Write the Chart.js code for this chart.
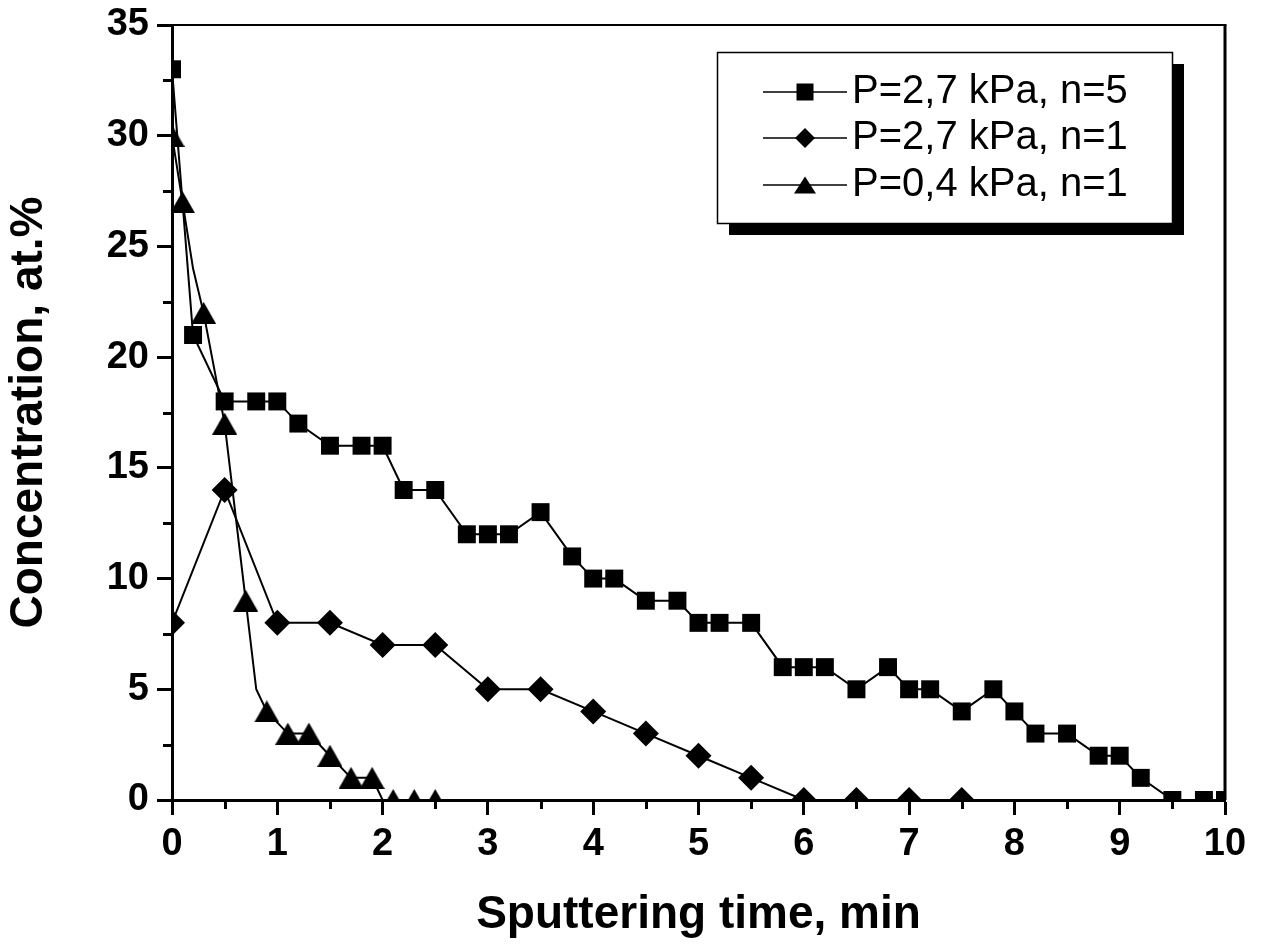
<!DOCTYPE html>
<html>
<head>
<meta charset="utf-8">
<script src="https://cdn.jsdelivr.net/npm/chart.js@4"></script>
<style>
  html, body { margin: 0; padding: 0; background: #fff; }
  #wrap { width: 1262px; height: 947px; position: relative; }
</style>
</head>
<body>
<div id="wrap"><canvas id="c"></canvas></div>
<script>
// ---- data ----
const xTitle = 'Sputtering time, min';
const yTitle = 'Concentration, at.%';
const seriesNames = ['P=2,7 kPa, n=5', 'P=2,7 kPa, n=1', 'P=0,4 kPa, n=1'];

const sqX = [0,0.2,0.5,0.8,1.0,1.2,1.5,1.8,2.0,2.2,2.5,2.8,3.0,3.2,3.5,3.8,4.0,4.2,4.5,4.8,5.0,5.2,5.5,5.8,6.0,6.2,6.5,6.8,7.0,7.2,7.5,7.8,8.0,8.2,8.5,8.8,9.0,9.2,9.5,9.8,10];
const sqY = [33,21,18,18,18,17,16,16,16,14,14,12,12,12,13,11,10,10,9,9,8,8,8,6,6,6,5,6,5,5,4,5,4,3,3,2,2,1,0,0,0];

const dmX = [0,0.5,1.0,1.5,2.0,2.5,3.0,3.5,4.0,4.5,5.0,5.5,6.0,6.5,7.0,7.5];
const dmY = [8,14,8,8,7,7,5,5,4,3,2,1,0,0,0,0];

const trX = [0,0.1,0.2,0.3,0.5,0.7,0.8,0.9,1.1,1.3,1.5,1.7,1.9,2.0,2.1,2.3,2.5];
const trY = [30,27,24,22,17,9,5,4,3,3,2,1,1,0,0,0,0];
const trNoMarker = [0.2,0.8,2.0];   // line bends drawn without a symbol

const xMin = 0, xMax = 10, xStep = 1;
const yMin = 0, yMax = 35, yStep = 5;

// ---- helpers ----
const FONT = "'Liberation Sans', Arial, Helvetica, sans-serif";
const pts = (xs, ys) => xs.map((x, i) => ({x: x, y: ys[i]}));

function triCanvas(w, h) {
  const c = document.createElement('canvas');
  c.width = w; c.height = h;
  const g = c.getContext('2d');
  g.fillStyle = '#000';
  g.beginPath();
  g.moveTo(0, h); g.lineTo(w, h); g.lineTo(w / 2, 0); g.closePath();
  g.fill();
  return c;
}
const triMark = triCanvas(25, 22);

// legend + frame + minor ticks
const extras = {
  id: 'extras',
  afterDatasetsDraw(chart) {
    const ctx = chart.ctx, a = chart.chartArea;
    const xs = chart.scales.x, ys = chart.scales.y;
    ctx.save();
    ctx.strokeStyle = '#000';
    // frame top/right
    ctx.lineWidth = 2;
    ctx.beginPath(); ctx.moveTo(a.left, a.top); ctx.lineTo(a.right + 1.5, a.top); ctx.stroke();
    ctx.lineWidth = 3;
    ctx.beginPath(); ctx.moveTo(a.right, a.top); ctx.lineTo(a.right, a.bottom); ctx.stroke();
    // minor ticks
    ctx.lineWidth = 3;
    for (let v = xMin + xStep / 2; v < xMax; v += xStep) {
      const px = Math.round(xs.getPixelForValue(v)) + 0.5;
      ctx.beginPath(); ctx.moveTo(px, a.bottom); ctx.lineTo(px, a.bottom + 9); ctx.stroke();
    }
    for (let v = yMin + yStep / 2; v < yMax; v += yStep) {
      const py = Math.round(ys.getPixelForValue(v)) + 0.5;
      ctx.beginPath(); ctx.moveTo(a.left, py); ctx.lineTo(a.left - 9, py); ctx.stroke();
    }
    ctx.restore();
  },
  afterDraw(chart) {
    const ctx = chart.ctx, a = chart.chartArea;
    const bx = a.right - 508, by = a.top + 27, bw = 455, bh = 171;
    ctx.save();
    ctx.fillStyle = '#000';
    ctx.fillRect(bx + 12, by + 12, bw, bh);
    ctx.fillStyle = '#fff';
    ctx.fillRect(bx, by, bw, bh);
    ctx.strokeStyle = '#000';
    ctx.lineWidth = 1.5;
    ctx.strokeRect(bx + 0.5, by + 0.5, bw, bh);
    const rows = [40, 86, 133];
    chart.data.datasets.forEach((ds, i) => {
      const y = by + rows[i];
      const mx = bx + 88;
      ctx.strokeStyle = '#000'; ctx.lineWidth = 1.6;
      ctx.beginPath(); ctx.moveTo(bx + 46, y); ctx.lineTo(bx + 130, y); ctx.stroke();
      ctx.fillStyle = '#000';
      ctx.beginPath();
      if (i === 0) {
        ctx.rect(mx - 8.5, y - 8.5, 17, 17);
      } else if (i === 1) {
        ctx.moveTo(mx - 10, y); ctx.lineTo(mx, y - 10); ctx.lineTo(mx + 10, y); ctx.lineTo(mx, y + 10); ctx.closePath();
      } else {
        ctx.moveTo(mx - 11, y + 8.5); ctx.lineTo(mx + 11, y + 8.5); ctx.lineTo(mx, y - 8.5); ctx.closePath();
      }
      ctx.fill();
      ctx.font = '40px ' + FONT;
      ctx.textBaseline = 'middle';
      ctx.textAlign = 'left';
      ctx.fillText(ds.label, bx + 135, y);
    });
    ctx.restore();
  }
};

const baseDs = {
  borderColor: '#000', backgroundColor: '#000',
  pointBackgroundColor: '#000', pointBorderColor: '#000', pointBorderWidth: 0,
  borderWidth: 2, tension: 0, fill: false
};

new Chart(document.getElementById('c'), {
  type: 'line',
  data: {
    datasets: [
      Object.assign({}, baseDs, { label: seriesNames[0], data: pts(sqX, sqY), pointStyle: 'rect', pointRadius: 12.7 }),
      Object.assign({}, baseDs, { label: seriesNames[1], data: pts(dmX, dmY), pointStyle: 'rectRot', pointRadius: 13 }),
      Object.assign({}, baseDs, { label: seriesNames[2], data: pts(trX, trY), pointStyle: triMark,
        pointRadius: (c) => (c.raw && trNoMarker.includes(c.raw.x)) ? 0 : 13 })
    ]
  },
  options: {
    responsive: true,
    maintainAspectRatio: false,
    devicePixelRatio: 1,
    animation: false,
    layout: { padding: { left: 0, top: 25, right: 37, bottom: 0 } },
    plugins: { legend: { display: false }, tooltip: { enabled: false } },
    elements: { point: { hoverRadius: 0 } },
    scales: {
      x: {
        type: 'linear', min: xMin, max: xMax,
        ticks: { stepSize: xStep, autoSkip: false, maxRotation: 0, padding: 7, color: '#000',
                 font: { family: FONT, weight: 'bold', size: 38 } },
        grid: { drawOnChartArea: false, drawTicks: true, tickLength: 15, tickWidth: 3, tickColor: '#000' },
        border: { display: true, color: '#000', width: 3 },
        title: { display: true, text: xTitle, color: '#000', padding: { top: 0, bottom: 4 },
                 font: { family: FONT, weight: 'bold', size: 46 } },
        afterFit(s) { s.height = 147; s.paddingRight = 0; s.paddingLeft = 0; }
      },
      y: {
        type: 'linear', min: yMin, max: yMax,
        ticks: { stepSize: yStep, autoSkip: false, padding: 8, color: '#000',
                 font: { family: FONT, weight: 'bold', size: 38 } },
        grid: { drawOnChartArea: false, drawTicks: true, tickLength: 15, tickWidth: 3, tickColor: '#000' },
        border: { display: true, color: '#000', width: 3 },
        title: { display: true, text: yTitle, color: '#000', padding: { top: 2, bottom: 0 },
                 font: { family: FONT, weight: 'bold', size: 46 } },
        afterFit(s) { s.width = 172; s.paddingTop = 0; s.paddingBottom = 0; }
      }
    }
  },
  plugins: [extras]
});
</script>
</body>
</html>
